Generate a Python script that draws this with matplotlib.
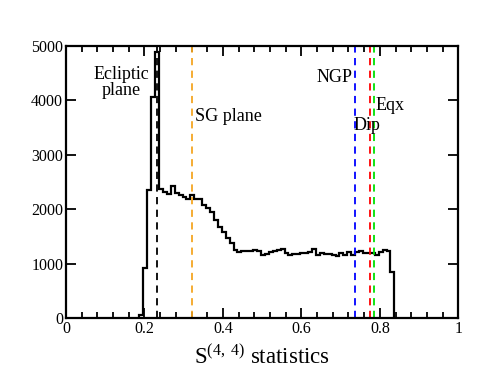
import numpy as np
import matplotlib
matplotlib.use("Agg")
import matplotlib.pyplot as plt
from matplotlib.ticker import MultipleLocator, FuncFormatter

plt.rcParams['font.family'] = ['Liberation Serif', 'DejaVu Serif']
plt.rcParams['mathtext.fontset'] = 'custom'
plt.rcParams['mathtext.rm'] = 'Liberation Serif'
plt.rcParams['mathtext.it'] = 'Liberation Serif:italic'

# histogram data: bins of width 0.01 starting at 0.187
bin_start = 0.187
bin_width = 0.01
counts = [
    60, 920, 2350, 4070, 4890,            # 0.187 - 0.237
    2366, 2320, 2280, 2430, 2290,         # 0.237 - 0.287
    2260, 2230, 2180, 2270, 2180,         # 0.287 - 0.337
    2180, 2077, 2015, 1955, 1800,         # 0.337 - 0.387
    1680, 1590, 1465, 1370, 1250,         # 0.387 - 0.437
    1220, 1225, 1225, 1225, 1255,         # 0.437 - 0.487
    1240, 1165, 1180, 1210, 1230,         # 0.487 - 0.537
    1245, 1260, 1200, 1165, 1180,         # 0.537 - 0.587
    1180, 1195, 1200, 1210, 1260,         # 0.587 - 0.637
    1165, 1195, 1180, 1180, 1165,         # 0.637 - 0.687
    1140, 1195, 1165, 1210, 1150,         # 0.687 - 0.737
    1220, 1240, 1200, 1195, 1190,         # 0.737 - 0.787
    1160, 1220, 1245, 1225, 850,          # 0.787 - 0.837
]

# reference directions
line_names = ["Ecliptic\nplane", "SG plane", "NGP", "Dip", "Eqx"]
line_pos = [0.233, 0.322, 0.737, 0.776, 0.785]
line_colors = ["black", "#f5a623", "#0000ff", "#ff0000", "#00e000"]

fig = plt.figure(figsize=(5.02, 3.88), dpi=100)
ax = fig.add_axes([0.1315, 0.1804, 0.7815, 0.701])

edges = bin_start + bin_width * np.arange(len(counts) + 1)
ax.stairs(counts, edges, color="black", linewidth=1.6, baseline=0)

for x, c in zip(line_pos, line_colors):
    ax.axvline(x, color=c, linestyle=(0, (4, 3)), linewidth=1.3)

ax.text(0.140, 4330, "Ecliptic\nplane", fontsize=13, ha="center", va="center",
        linespacing=0.95)
ax.text(0.328, 3700, "SG plane", fontsize=13, ha="left", va="center")
ax.text(0.731, 4430, "NGP", fontsize=13, ha="right", va="center")
ax.text(0.790, 3900, "Eqx", fontsize=13, ha="left", va="center")
ax.text(0.732, 3530, "Dip", fontsize=13, ha="left", va="center")

ax.set_xlim(0, 1)
ax.set_ylim(0, 5000)
ax.xaxis.set_major_locator(MultipleLocator(0.2))
ax.xaxis.set_minor_locator(MultipleLocator(0.04))
ax.yaxis.set_major_locator(MultipleLocator(1000))
fmt = FuncFormatter(lambda v, p: ("%g" % round(v, 6)))
ax.xaxis.set_major_formatter(fmt)
ax.yaxis.set_major_formatter(fmt)
ax.tick_params(which="both", direction="in", top=True, right=True,
               labelsize=11.5, width=1.3)
ax.tick_params(which="major", length=7, pad=2)
ax.tick_params(which="minor", length=4)
for s in ax.spines.values():
    s.set_linewidth(1.6)

ax.set_xlabel(r"S$^{\rm (4,\ 4)}$ statistics", fontsize=16.5, labelpad=6)

fig.savefig("out.png", dpi=100)
